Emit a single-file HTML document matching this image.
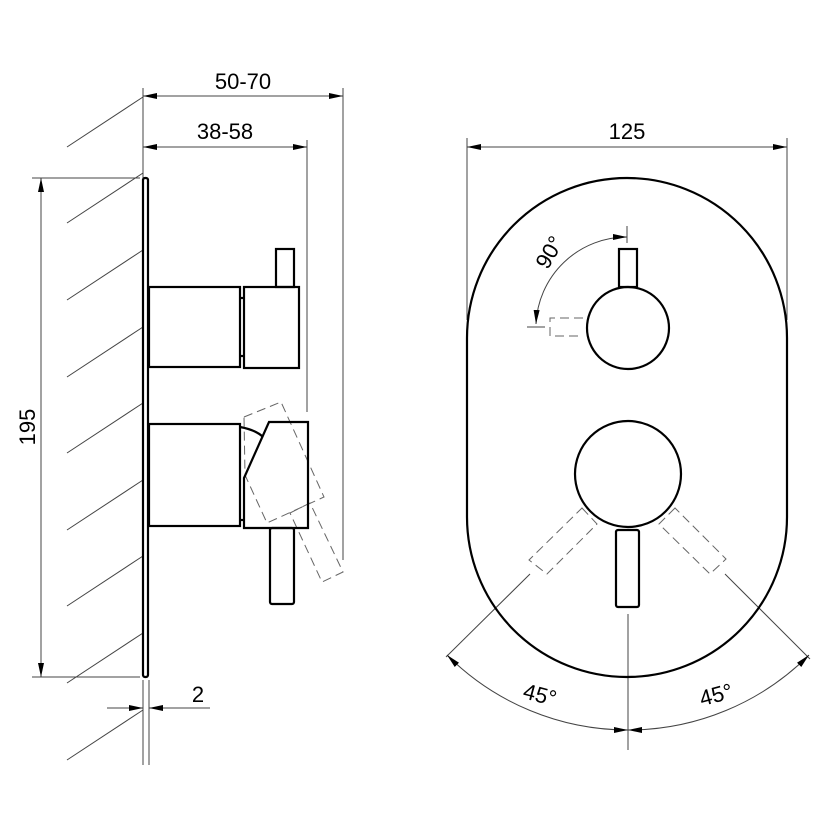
<!DOCTYPE html>
<html><head><meta charset="utf-8"><style>html,body{margin:0;padding:0;background:#fff}svg{display:block}</style></head>
<body>
<svg width="830" height="830" viewBox="0 0 830 830" xmlns="http://www.w3.org/2000/svg" font-family="Liberation Sans, Arial, sans-serif">
<defs>
<marker id="a" viewBox="0 0 14 6" refX="14" refY="3" markerWidth="14" markerHeight="6" markerUnits="userSpaceOnUse" orient="auto-start-reverse"><path d="M0,0 L14,3 L0,6 Z" fill="#000"/></marker>
</defs>
<g stroke="#444" stroke-width="1" fill="none">
<line x1="67" y1="147" x2="143" y2="97"/>
<line x1="67" y1="223" x2="143" y2="173"/>
<line x1="67" y1="300" x2="143" y2="250"/>
<line x1="67" y1="377" x2="143" y2="327"/>
<line x1="67" y1="453" x2="143" y2="403"/>
<line x1="67" y1="530" x2="143" y2="480"/>
<line x1="67" y1="606" x2="143" y2="556"/>
<line x1="67" y1="683" x2="143" y2="633"/>
<line x1="67" y1="760" x2="143" y2="710"/>
<line x1="143" y1="88" x2="143" y2="178"/>
<line x1="143" y1="680" x2="143" y2="765"/>
<line x1="149" y1="680" x2="149" y2="765"/>
<line x1="343" y1="88" x2="343" y2="560"/>
<line x1="307" y1="140" x2="307" y2="412"/>
<line x1="32" y1="178" x2="140" y2="178"/>
<line x1="32" y1="677" x2="140" y2="677"/>
<line x1="467" y1="138" x2="467" y2="320"/>
<line x1="787" y1="138" x2="787" y2="320"/>
<line x1="143" y1="96" x2="343" y2="96" marker-start="url(#a)" marker-end="url(#a)"/>
<line x1="143" y1="147" x2="307" y2="147" marker-start="url(#a)" marker-end="url(#a)"/>
<line x1="41" y1="178" x2="41" y2="677" marker-start="url(#a)" marker-end="url(#a)"/>
<line x1="107" y1="708" x2="143" y2="708" marker-end="url(#a)"/>
<line x1="210" y1="708" x2="149" y2="708" marker-end="url(#a)"/>
<line x1="467" y1="147" x2="787" y2="147" marker-start="url(#a)" marker-end="url(#a)"/>
<line x1="627" y1="226" x2="627" y2="243"/>
<line x1="527" y1="327" x2="545" y2="327"/>
<path d="M627,237 A91,91 0 0 0 536,324" marker-start="url(#a)" marker-end="url(#a)"/>
<line x1="628" y1="614" x2="628" y2="750"/>
<line x1="530" y1="574" x2="446" y2="657"/>
<line x1="725" y1="574" x2="810" y2="659"/>
<path d="M447,655 A256,256 0 0 0 628,730" marker-start="url(#a)" marker-end="url(#a)"/>
<path d="M809,655 A256,256 0 0 1 628,730" marker-start="url(#a)" marker-end="url(#a)"/>
</g>
<g stroke="#666" stroke-width="1" fill="none" stroke-dasharray="9,5">
<polygon points="244,417 281,402 324,497 267,523 245,475"/>
<polygon points="290,513 310,503 343,572 322,582"/>
<polyline points="583,318 550,318 550,336 583,336"/>
<polygon points="582,508 597,524 547,574 529,560"/>
<polygon points="675,508 659,524 710,574 726,559"/>
</g>
<g stroke="#000" stroke-width="2.2" fill="none">
<rect x="143" y="178" width="5" height="499" rx="2"/>
<rect x="149" y="287" width="91" height="80"/>
<rect x="244" y="287" width="55" height="81"/>
<line x1="240" y1="298" x2="244" y2="298"/><line x1="240" y1="356" x2="244" y2="356"/>
<rect x="276" y="249" width="18" height="38"/>
<rect x="149" y="424" width="91" height="102"/>
<polygon points="269,422 308,422 308,528 244,528 244,478"/>
<path d="M240,427 Q256,430 263,437"/>
<line x1="240" y1="520" x2="244" y2="520"/>
<rect x="270" y="528" width="24" height="76" rx="2"/>
<path d="M467,338 A160,160 0 0 1 787,338 L787,517 A160,160 0 0 1 467,517 Z"/>
<circle cx="628" cy="328" r="41" fill="#fff"/>
<rect x="619" y="249" width="18" height="38"/>
<circle cx="628" cy="474" r="53"/>
<rect x="616" y="530" width="23" height="77" rx="2"/>
</g>
<g fill="#000" font-size="22">
<text x="243" y="89" text-anchor="middle">50-70</text>
<text x="225" y="139" text-anchor="middle">38-58</text>
<text x="627" y="139" text-anchor="middle">125</text>
<text x="198" y="702" text-anchor="middle">2</text>
<text transform="translate(35,427) rotate(-90)" text-anchor="middle">195</text>
<text transform="translate(556,256) rotate(-60)" text-anchor="middle">90°</text>
<text transform="translate(538,702) rotate(15)" text-anchor="middle">45°</text>
<text transform="translate(718,702) rotate(-15)" text-anchor="middle">45°</text>
</g>
</svg>
</body></html>
